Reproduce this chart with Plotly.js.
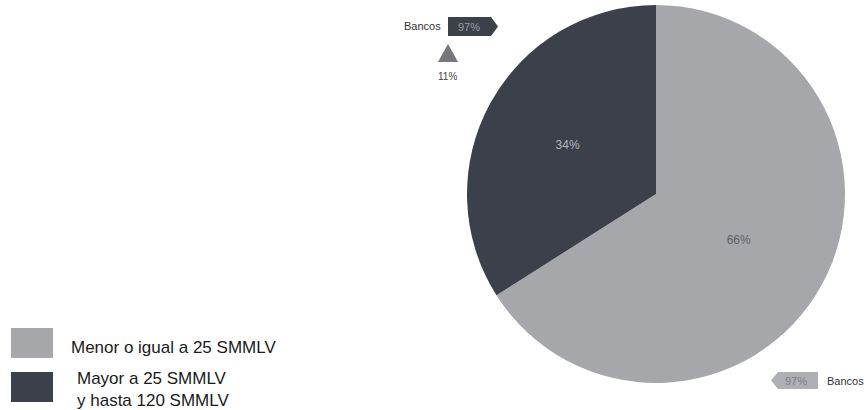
<!DOCTYPE html>
<html>
<head>
<meta charset="utf-8">
<script src="https://cdn.plot.ly/plotly-3.0.1.min.js"></script>
<style>
html,body{margin:0;padding:0;background:#fff;}
#chart{width:867px;height:410px;}
</style>
</head>
<body>
<div id="chart"></div>
<script>
// ---- data ----
const categories = ["Menor o igual a 25 SMMLV", "Mayor a 25 SMMLV<br>y hasta 120 SMMLV"];
const shares = [66, 34];
const sliceColors = ["#a5a7ab", "#3c404b"];
const sliceTextColors = ["#5e6066", "#b4b6bb"];
const calloutName = "Bancos";
const calloutPcts = [97, 97];     // top (dark) and bottom (light) tags
const triangleValue = 11;

const W = 867, H = 410;
const px = x => x / W;
const py = y => 1 - y / H;
const FONT = "'Liberation Sans', Arial, Helvetica, sans-serif";

const shapes = [];
const annotations = [];

// legend (custom, large squares)
const legendRows = [
  {y0: 328, y1: 358, tx: 69, ty: 347},
  {y0: 372, y1: 402, tx: 75, ty: 389}
];
categories.forEach((c, i) => {
  const r = legendRows[i];
  shapes.push({type: "rect", xref: "paper", yref: "paper",
    x0: px(11), x1: px(53), y0: py(r.y1), y1: py(r.y0),
    fillcolor: sliceColors[i], line: {width: 0}});
  annotations.push({xref: "paper", yref: "paper", x: px(r.tx), y: py(r.ty),
    xanchor: "left", yanchor: "middle", align: "left", showarrow: false,
    text: c, font: {family: FONT, size: 17, color: "#1a1a1a"}});
});

// top callout tag (dark, pointing right)
shapes.push({type: "path", xref: "paper", yref: "paper",
  path: `M ${px(448)} ${py(17)} L ${px(491)} ${py(17)} L ${px(498)} ${py(26.5)} L ${px(491)} ${py(36)} L ${px(448)} ${py(36)} Z`,
  fillcolor: sliceColors[1], line: {width: 0}});
annotations.push({xref: "paper", yref: "paper", x: px(469), y: py(26.5), showarrow: false,
  xanchor: "center", yanchor: "middle", text: calloutPcts[0] + "%",
  font: {family: FONT, size: 11, color: "#9b9da2"}});
annotations.push({xref: "paper", yref: "paper", x: px(443), y: py(26), showarrow: false,
  xanchor: "right", yanchor: "middle", text: calloutName,
  font: {family: FONT, size: 11, color: "#333"}});

// triangle + value
shapes.push({type: "path", xref: "paper", yref: "paper",
  path: `M ${px(448)} ${py(44)} L ${px(458)} ${py(62)} L ${px(438)} ${py(62)} Z`,
  fillcolor: "#75777c", line: {width: 0}});
annotations.push({xref: "paper", yref: "paper", x: px(447), y: py(77), showarrow: false,
  xanchor: "center", yanchor: "middle", text: triangleValue + "%",
  font: {family: FONT, size: 10, color: "#444"}});

// bottom callout tag (light, pointing left)
shapes.push({type: "path", xref: "paper", yref: "paper",
  path: `M ${px(778)} ${py(372)} L ${px(818)} ${py(372)} L ${px(818)} ${py(389)} L ${px(778)} ${py(389)} L ${px(771)} ${py(380.5)} Z`,
  fillcolor: "#aeb0b4", line: {width: 0}});
annotations.push({xref: "paper", yref: "paper", x: px(796), y: py(380.5), showarrow: false,
  xanchor: "center", yanchor: "middle", text: calloutPcts[1] + "%",
  font: {family: FONT, size: 11, color: "#7c7e83"}});
annotations.push({xref: "paper", yref: "paper", x: px(825), y: py(381), showarrow: false,
  xanchor: "left", yanchor: "middle", text: calloutName,
  font: {family: FONT, size: 11, color: "#333"}});

const trace = {
  type: "pie",
  labels: categories,
  values: shares,
  sort: false,
  direction: "clockwise",
  rotation: 0,
  marker: {colors: sliceColors, line: {width: 0}},
  textinfo: "percent",
  texttemplate: "%{percent:.0%}",
  textposition: "inside",
  insidetextorientation: "horizontal",
  textfont: {family: FONT, size: 12, color: sliceTextColors},
  hoverinfo: "none",
  domain: {x: [px(467), px(845)], y: [py(383), py(5)]}
};

const layout = {
  width: W, height: H,
  margin: {l: 0, r: 0, t: 0, b: 0},
  paper_bgcolor: "#ffffff",
  showlegend: false,
  shapes: shapes,
  annotations: annotations
};

Plotly.newPlot("chart", [trace], layout, {displayModeBar: false, staticPlot: true});
</script>
</body>
</html>
